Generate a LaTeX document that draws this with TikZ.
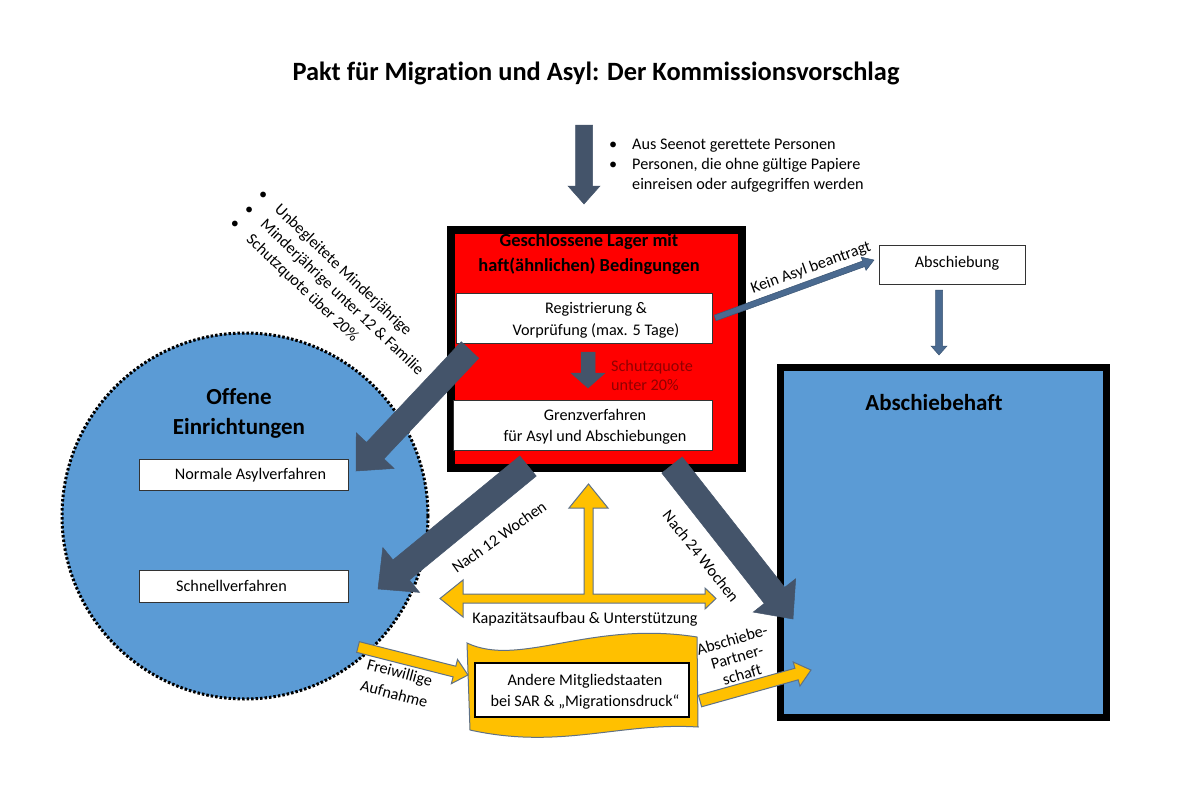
\documentclass[tikz,border=0pt]{standalone}
\usepackage{fontspec}
\setmainfont{Carlito}[Ligatures=NoCommon]
\usetikzlibrary{calc}
\definecolor{slate}{HTML}{44546A}
\definecolor{cblue}{HTML}{5B9BD5}
\definecolor{cyell}{HTML}{FFC000}
\definecolor{youtl}{HTML}{5F7186}
\definecolor{thinarr}{HTML}{4A6A90}
\definecolor{dred}{HTML}{900000}
\newcommand\blockarrow[6]{%
  \path let \p1=(#1), \p2=(#2) in \pgfextra{%
    \pgfmathsetmacro\baangtmp{atan2((\y2)-(\y1),(\x2)-(\x1))}%
    \pgfmathsetmacro\balentmp{veclen((\x2)-(\x1),(\y2)-(\y1))}%
    \global\let\baang\baangtmp\global\let\balen\balentmp};
  \draw[#6, shift={(#1)}, rotate=\baang]
    (0,{-(#3)/2}) -- ({\balen-(#5)},{-(#3)/2}) -- ({\balen-(#5)},{-(#4)/2}) -- (\balen,0)
    -- ({\balen-(#5)},{(#4)/2}) -- ({\balen-(#5)},{(#3)/2}) -- (0,{(#3)/2}) -- cycle;
}
\begin{document}
\begin{tikzpicture}[x=1pt,y=-1pt,
  txt/.style={font=\fontsize{16.2}{20}\selectfont, inner sep=0pt},
  wbox/.style={draw=black!80, line width=1pt, fill=white, inner sep=0pt},
  darr/.style={fill=slate, draw=slate, line width=0.5pt},
  tarr/.style={fill=thinarr, draw=thinarr!80!black, line width=0.5pt},
  yarr/.style={fill=cyell, draw=youtl, line width=1pt, line join=miter},
]
\useasboundingbox (0,0) rectangle (1199,804);
\fill[white] (0,0) rectangle (1199,804);

% title
\node[font=\fontsize{26.4}{30}\selectfont\bfseries, anchor=base] (title) at (596,80) {Pakt für Migration und Asyl: Der Kommissionsvorschlag};

% open facilities circle
\node[circle, draw=black, line width=3pt, dash pattern=on 2.5pt off 2pt, fill=cblue, minimum size=366, inner sep=0] (offen) at (245,516) {};
\node[font=\fontsize{23}{30}\selectfont\bfseries, align=center] (offentitle) at (239,413) {Offene\\Einrichtungen};
\node[wbox, minimum width=209, minimum height=31] (normal) at (243.5,474.5) {};
\node[txt] at (250.5,475) {Normale Asylverfahren};
\node[wbox, minimum width=209, minimum height=32] (schnell) at (243.5,586) {};
\node[txt] at (231.5,586) {Schnellverfahren};

% closed camps
\node[draw=black, line width=8pt, fill=red, minimum width=291, minimum height=238, inner sep=0, anchor=north west] (lager) at (447,226) {};
\node[font=\fontsize{18.4}{25}\selectfont\bfseries, align=center] (lagertitle) at (589,254) {Geschlossene Lager mit\\haft(ähnlichen) Bedingungen};
\node[wbox, minimum width=256, minimum height=50] (reg) at (584,318) {};
\node[txt, align=center, font=\fontsize{16.2}{22}\selectfont] (regtxt) at (596,320) {Registrierung \&\\Vorprüfung (max. 5 Tage)};
\node[wbox, minimum width=259, minimum height=50] (grenz) at (582.5,425) {};
\node[txt, align=center, font=\fontsize{16.2}{21}\selectfont] (grenztxt) at (595,427) {Grenzverfahren\\für Asyl und Abschiebungen};
\coordinate (s1) at (588,352); \coordinate (s2) at (588,388);
\blockarrow{s1}{s2}{14}{34}{15}{darr}
\node[txt, text=dred, align=left, anchor=west, font=\fontsize{16.2}{19}\selectfont] (quote) at (611,375) {Schutzquote\\unter 20\%};

% entry arrow and bullets
\coordinate (t1) at (584,125); \coordinate (t2) at (584,204);
\blockarrow{t1}{t2}{17}{32}{18}{darr}
\node[txt, anchor=base west] (entry) at (609,149) {\begin{tabular}[t]{@{}p{23pt}@{}l@{}}\textbullet & Aus Seenot gerettete Personen\\ \textbullet & Personen, die ohne gültige Papiere\\ & einreisen oder aufgegriffen werden\end{tabular}};

% rotated list
\node[txt, rotate=-43.5, anchor=base west, font=\fontsize{16.2}{20.5}\selectfont] (kinder) at (257,195) {\begin{tabular}[t]{@{}p{23pt}@{}l@{}}\textbullet & Unbegleitete Minderjährige\\ \textbullet & Minderjährige unter 12 \& Familie\\ \textbullet & Schutzquote über 20\%\end{tabular}};

% deportation
\node[wbox, minimum width=146, minimum height=39] (absch) at (952,264.5) {};
\node[txt] (abschtxt) at (957,263) {Abschiebung};
\coordinate (ab1) at (939,290); \coordinate (ab2) at (939,355);
\blockarrow{ab1}{ab2}{7}{16}{9}{tarr}
\node[draw=black, line width=7pt, fill=cblue, minimum width=326, minimum height=350.5, anchor=north west, inner sep=0] (haft) at (776.5,363.5) {};
\node[font=\fontsize{23}{26}\selectfont\bfseries] (hafttitle) at (934,403) {Abschiebehaft};

\coordinate (k1) at (715,318); \coordinate (k2) at (874,260);
\blockarrow{k1}{k2}{6}{14}{11}{tarr}
\node[txt, rotate=20] (kein) at (811,268) {Kein Asyl beantragt};

% big arrows
\coordinate (b1s) at (470,350); \coordinate (b1e) at (356,471);
\blockarrow{b1s}{b1e}{24}{52}{28}{darr}
\coordinate (b2s) at (528,466); \coordinate (b2e) at (378,589);
\blockarrow{b2s}{b2e}{26}{58}{30}{darr}
\coordinate (b3s) at (672,465); \coordinate (b3e) at (793,619);
\blockarrow{b3s}{b3e}{26}{54}{30}{darr}
\node[txt, rotate=35.5] (n12) at (499,537) {Nach 12 Wochen};
\node[txt, rotate=-51.5] (n24) at (701,556) {Nach 24 Wochen};

% capacity arrows
\draw[yarr] (440,598.5) -- (463,580) -- (463,594) -- (584,594) -- (584,508) -- (569,508) -- (588.5,484) -- (608,508) -- (593,508) -- (593,594) -- (705,594) -- (705,588) -- (716,598.5) -- (705,609) -- (705,603) -- (463,603) -- (463,617) -- cycle;
\node[txt] (kap) at (585,619) {Kapazitätsaufbau \& Unterstützung};

% banner
\draw[yarr] (467,643) .. controls (520,668) and (590,620) .. (697,637) -- (698,727) .. controls (620,722) and (560,750) .. (470,730) -- cycle;
\node[draw=black, line width=1.3pt, fill=white, minimum width=214, minimum height=54, inner sep=0] (andere) at (582,690) {};
\node[txt, align=center, font=\fontsize{16.2}{21}\selectfont] (anderetxt) at (585,692) {Andere Mitgliedstaaten\\bei SAR \& „Migrationsdruck“};

\coordinate (f1) at (358,647); \coordinate (f2) at (468,675);
\blockarrow{f1}{f2}{11}{25}{14}{yarr}
\node[txt, rotate=-15, align=center, font=\fontsize{16.2}{22}\selectfont] (frei) at (397,683) {Freiwillige\\Aufnahme};

\coordinate (p1) at (700,701); \coordinate (p2) at (811,670);
\blockarrow{p1}{p2}{12}{25}{15}{yarr}
\node[txt, rotate=16, align=center, font=\fontsize{16.2}{18}\selectfont] (partner) at (737,657) {Abschiebe-\\Partner-\\schaft};
\end{tikzpicture}
\end{document}
